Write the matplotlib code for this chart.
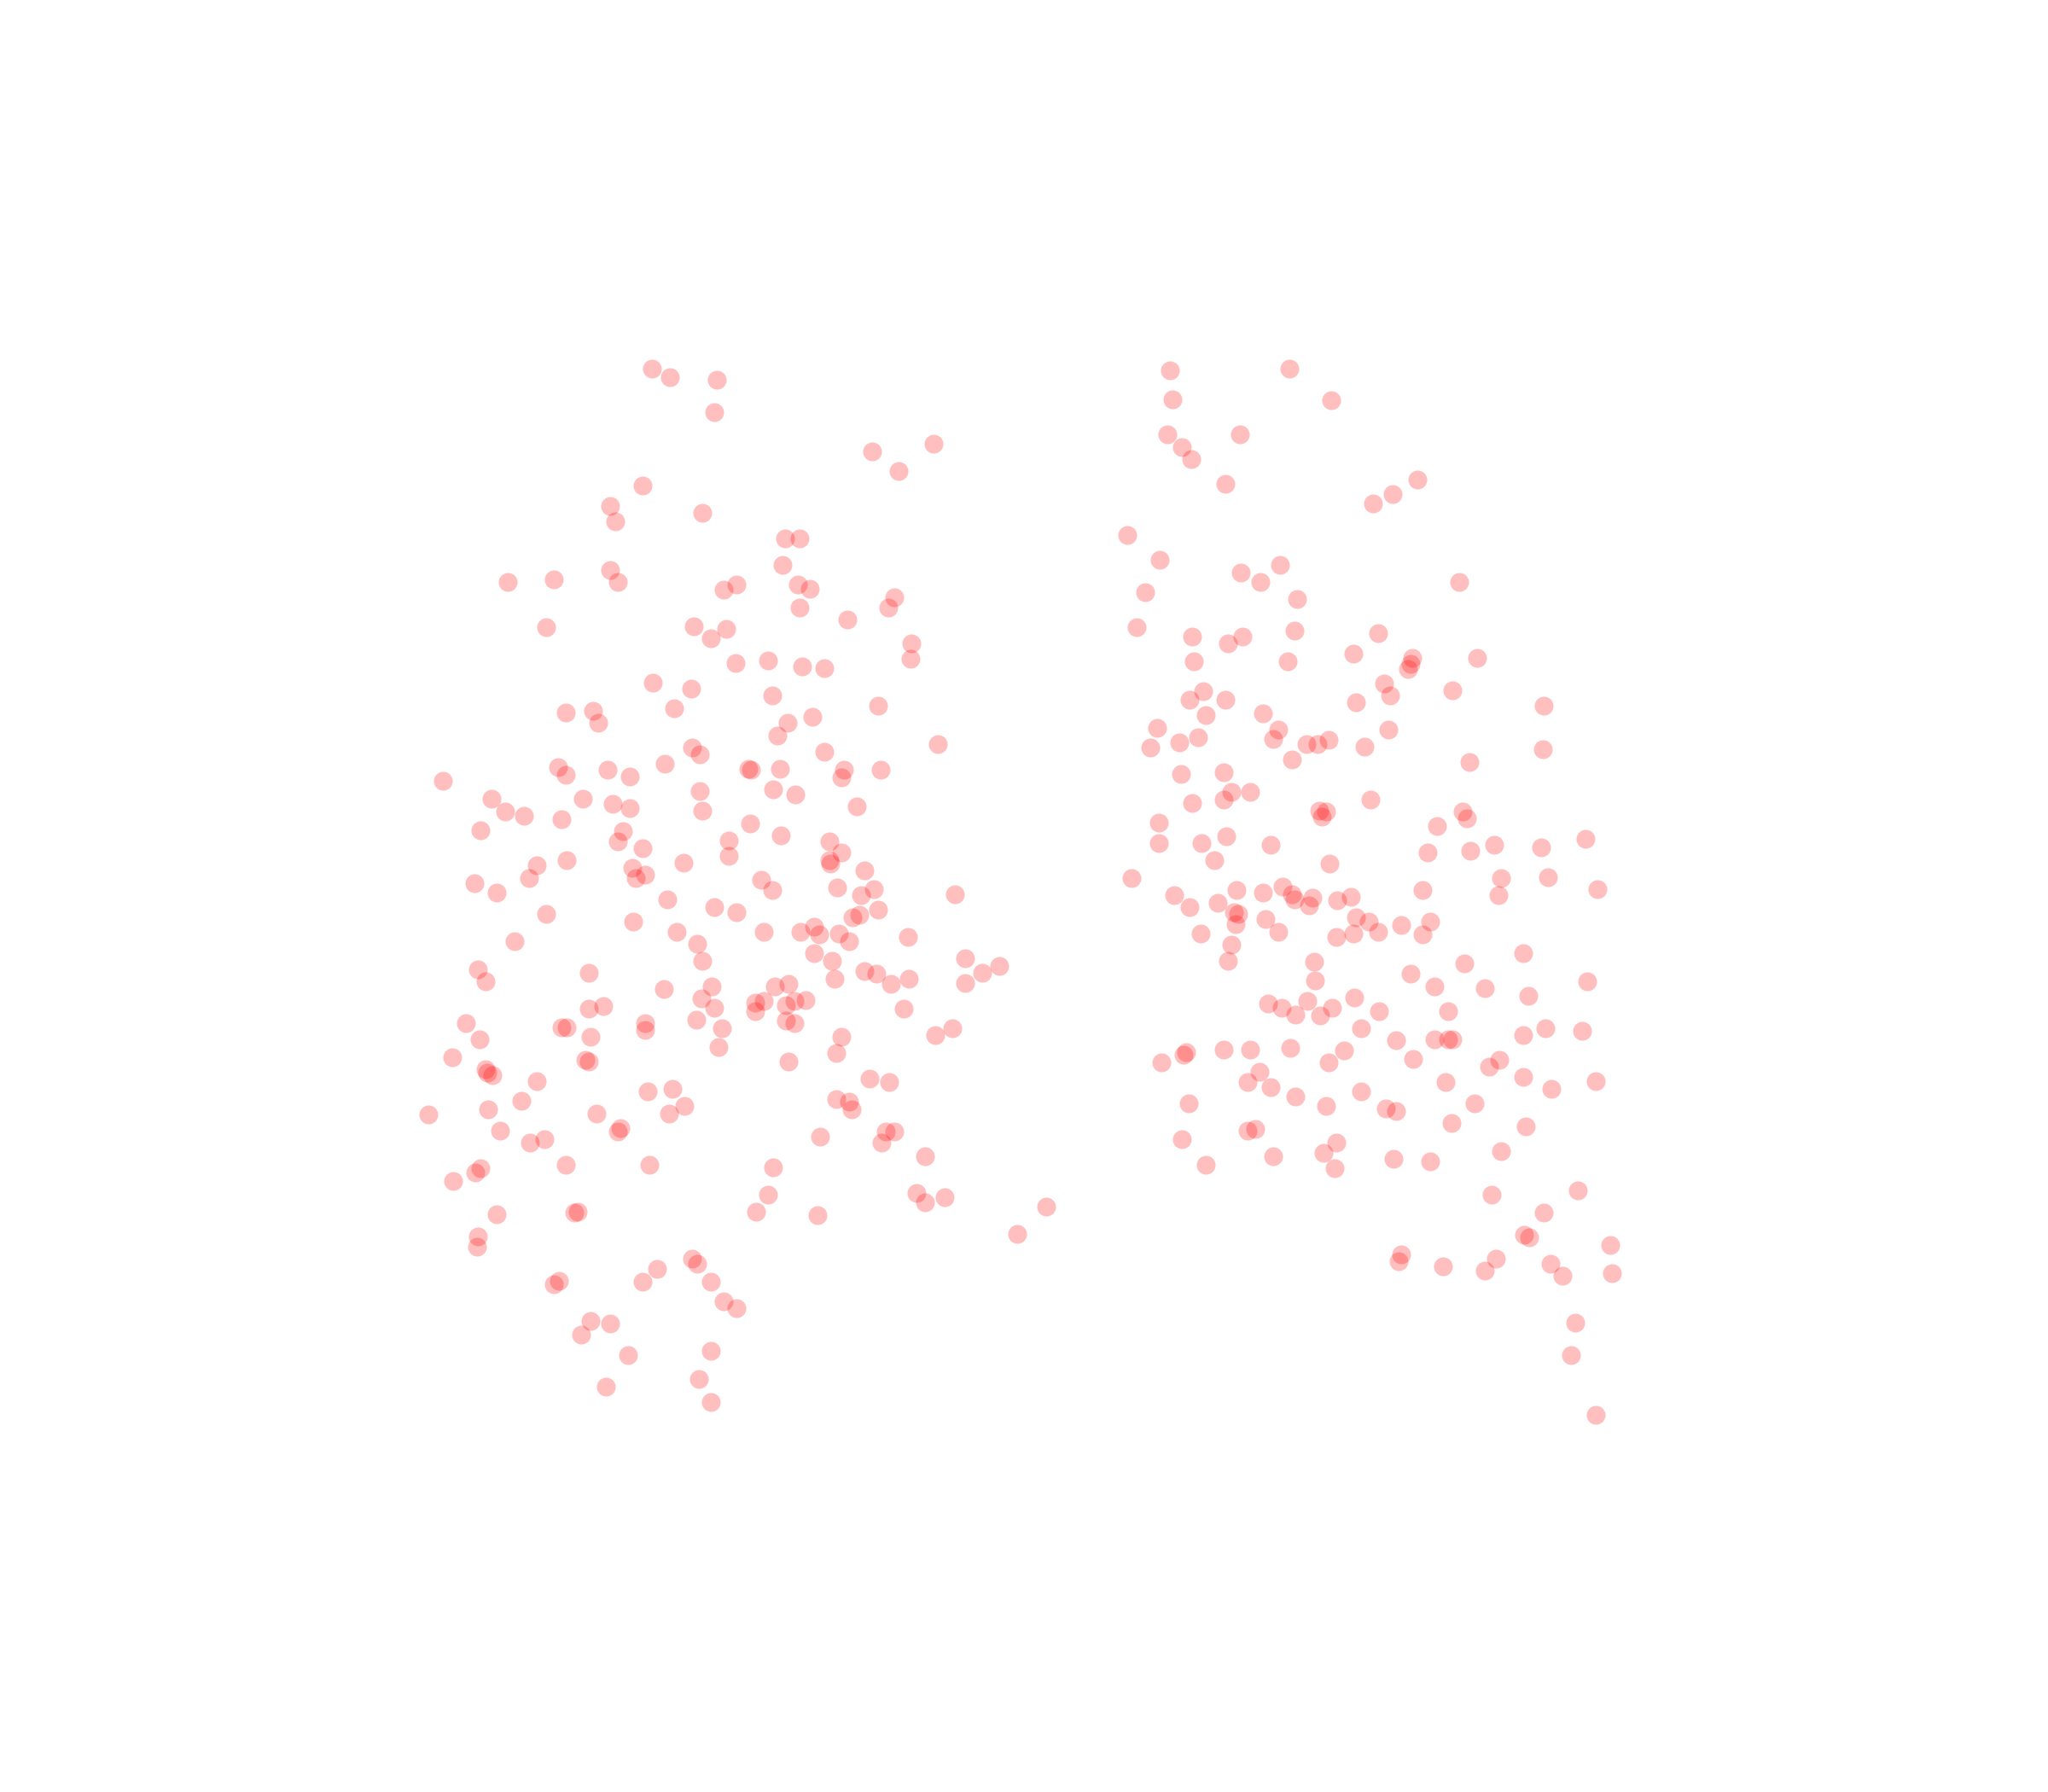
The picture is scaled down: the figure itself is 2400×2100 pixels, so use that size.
"""Two loose clusters of translucent red points, no axes."""
import matplotlib
matplotlib.use("Agg")
import matplotlib.pyplot as plt

# values
left_x = [499,513,549,547,668,688,715,492,467,471,538,601,612,599,467,473,424,389,554,564,611,620,612,685,680,649,418,531,544,556,698,697,563,588,614,631,500,529,591,433,454,458,516,603,622,672,595,718,530,536,631,509,427,433,465,482,573,575,597,646,644,674,339,376,387,401,446,469,482,536,592,609,656,538,430,368,477,473,574,598,558,635,492,644,558,635,636,434,411,484,494,487,523,662,405,363,380,583,591,669,659,731,511,547,564,672,658,653,641,418,485,518,585,613,623,627,642,650,695,394,534,623,538,637,739,765,752,739,366,372,451,662,671,696,682,639,508,545,593,604,537,578,585,608,617,602,547,578,451,462,692,357,430,434,494,494,533,602,608,553,367,452,644,716,729,550,640,346,448,451,604,372,373,377,411,496,515,666,681,399,524,640,650,652,374,457,512,328,383,475,473,678,685,628,406,417,675,433,497,592,708,364,368,347,702,588,723,708,801,380,442,440,579,626,779,366,365,530,534,503,492,544,428,424,554,564,452,467,445,481,544,535,464,544]
left_y = [283,289,291,316,346,361,340,372,388,400,393,413,413,433,437,446,444,446,452,448,448,451,466,458,466,475,481,480,489,482,493,505,508,506,511,512,523,528,533,546,545,554,543,554,549,541,564,570,573,578,576,585,588,594,590,595,589,590,589,590,596,590,598,612,622,625,612,616,619,606,605,609,618,621,628,636,637,645,631,640,644,645,650,653,656,659,662,659,663,665,670,673,661,667,673,677,684,674,682,681,686,685,689,695,699,697,701,703,680,700,706,714,714,714,710,716,715,721,718,721,723,730,736,736,734,740,745,753,743,752,745,744,746,750,754,750,758,756,756,754,765,768,767,767,766,770,772,775,773,771,773,784,787,787,784,789,781,782,784,788,796,794,794,793,788,802,807,810,812,813,813,819,822,824,828,836,834,826,829,843,847,842,844,850,850,853,853,854,866,864,867,867,867,871,875,873,875,892,892,894,886,898,895,905,914,915,917,921,924,930,928,929,928,931,945,947,955,964,968,972,982,982,981,984,997,1002,1012,1014,1022,1038,1035,1056,1062,1074]
right_x = [896,987,898,1019,894,949,905,912,938,1085,1066,1051,863,888,980,950,965,1117,877,993,870,991,913,951,940,1055,1036,1131,1081,1080,1078,914,986,1060,921,911,938,1112,1064,1038,1182,923,967,886,979,1063,917,903,975,1000,1009,1017,881,1045,1181,989,1125,904,937,943,957,913,937,1049,1010,1015,1012,1120,1123,887,1100,939,887,920,973,1144,1214,1180,1093,1126,930,1018,866,1149,1185,982,947,967,989,991,1005,1034,1024,1089,1147,1223,899,911,932,945,948,1002,969,946,1038,1048,1095,1073,919,979,1023,1036,1055,1089,943,940,1006,1166,1121,1007,1080,1098,1137,1215,971,981,992,1001,1011,1020,1037,1056,1109,1170,1042,1069,1098,1109,1112,1166,1183,1211,937,957,988,1029,908,906,889,1017,1082,1148,1140,964,955,973,1107,1166,1222,1188,992,1042,910,1015,1061,1069,1129,1111,955,961,1168,905,1023,1013,975,1067,1095,1149,923,1022,1208,1142,1182,1167,1171,1233,1073,1071,1105,1145,1137,1187,1196,1234,1206,1203,1222]
right_y = [284,283,306,307,333,333,343,352,371,368,379,386,410,429,433,439,446,446,454,459,481,483,488,488,493,485,501,504,504,509,513,507,507,524,530,536,536,529,533,538,541,548,547,558,559,559,565,569,566,570,570,567,573,572,574,582,584,593,592,607,607,615,613,613,621,622,626,622,627,630,633,641,646,646,647,647,643,649,653,652,659,662,673,673,672,679,682,684,685,689,688,687,690,682,686,681,686,695,692,699,700,694,704,708,703,706,706,709,715,714,718,715,714,716,724,736,737,730,738,751,746,756,757,752,769,772,777,767,778,772,764,775,775,763,788,797,796,796,796,793,788,790,804,804,803,805,806,808,814,814,811,812,817,821,829,833,829,825,828,834,840,836,845,847,849,851,845,860,866,865,863,873,875,883,886,888,890,882,892,895,912,915,929,946,948,954,961,966,970,964,973,968,977,975,1013,1038,1084]

fig = plt.figure(figsize=(8, 7), dpi=300)
ax = fig.add_axes([0, 0, 1, 1])
ax.scatter(left_x + right_x, left_y + right_y, s=28, color="red", alpha=0.25, linewidths=0)
ax.set_xlim(0, 1568)
ax.set_ylim(1372.5, 0.5)
ax.axis("off")
fig.savefig("out.png")
